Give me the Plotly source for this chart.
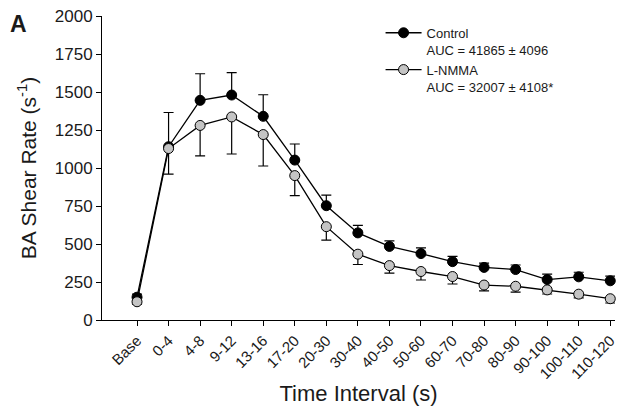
import plotly.graph_objects as go

categories = ["Base", "0-4", "4-8", "9-12", "13-16", "17-20", "20-30", "30-40", "40-50",
              "50-60", "60-70", "70-80", "80-90", "90-100", "100-110", "110-120"]
control = [150, 1140, 1445, 1480, 1340, 1052, 752, 573, 484, 437, 384, 346, 332, 266, 284, 258]
control_err = [20, 225, 175, 148, 142, 106, 70, 50, 37, 37, 34, 28, 30, 36, 30, 31]
lnmma = [120, 1128, 1280, 1336, 1220, 950, 614, 433, 358, 319, 286, 230, 222, 198, 170, 140]
lnmma_err = [15, 168, 200, 244, 207, 132, 88, 68, 50, 56, 49, 39, 38, 27, 25, 28]

x_idx = list(range(len(categories)))

fig = go.Figure()
fig.add_trace(go.Scatter(
    x=x_idx, y=control, mode="lines+markers",
    name="Control<br>AUC = 41865 ± 4096",
    line=dict(color="black", width=1.3),
    marker=dict(color="black", size=10, line=dict(color="black", width=1)),
    error_y=dict(type="data", array=control_err, arrayminus=[0]*len(control),
                 color="black", thickness=1.2, width=5),
    cliponaxis=False,
))
fig.add_trace(go.Scatter(
    x=x_idx, y=lnmma, mode="lines+markers",
    name="L-NMMA<br>AUC = 32007 ± 4108*",
    line=dict(color="black", width=1.3),
    marker=dict(color="#c4c4c4", size=10, line=dict(color="black", width=1)),
    error_y=dict(type="data", array=[0]*len(lnmma), arrayminus=lnmma_err,
                 color="black", thickness=1.2, width=5),
    cliponaxis=False,
))

font_family = "Liberation Sans, Arial, sans-serif"
L, R, T, B = 102, 9, 16, 94
PW, PH = 624 - L - R, 414 - T - B
fig.update_layout(
    width=624, height=414,
    margin=dict(l=L, r=R, t=T, b=B),
    paper_bgcolor="white", plot_bgcolor="white",
    font=dict(family=font_family, color="#1a1a1a"),
    showlegend=True,
    legend=dict(x=0.543, y=0.994, xanchor="left", yanchor="top",
                font=dict(size=13, family=font_family, color="#1a1a1a"),
                bgcolor="rgba(0,0,0,0)", valign="top", itemwidth=36),
    xaxis=dict(
        tickmode="array", tickvals=x_idx, ticktext=categories,
        range=[-1.11, 15.15], tickangle=-45, automargin=False,
        showline=True, linecolor="black", linewidth=1,
        ticks="outside", ticklen=5, tickcolor="black",
        showgrid=False, zeroline=False,
        tickfont=dict(size=15),
        title=dict(text="Time Interval (s)", font=dict(size=22), standoff=4),
    ),
    yaxis=dict(
        range=[0, 2000], tickvals=[0, 250, 500, 750, 1000, 1250, 1500, 1750, 2000],
        automargin=False,
        showline=True, linecolor="black", linewidth=1,
        ticks="outside", ticklen=5, tickcolor="black",
        showgrid=False, zeroline=False,
        tickfont=dict(size=17),
        title=dict(text="BA Shear Rate (s<sup>-1</sup>)", font=dict(size=21), standoff=12),
    ),
    annotations=[dict(text="<b>A</b>", x=(8 - L) / PW, y=1 + (T - 9) / PH,
                      xref="paper", yref="paper",
                      showarrow=False, font=dict(size=23), xanchor="left", yanchor="top")],
)

fig.write_html("out.html", config={"displayModeBar": False},
               post_script="document.body.style.margin='0';")
